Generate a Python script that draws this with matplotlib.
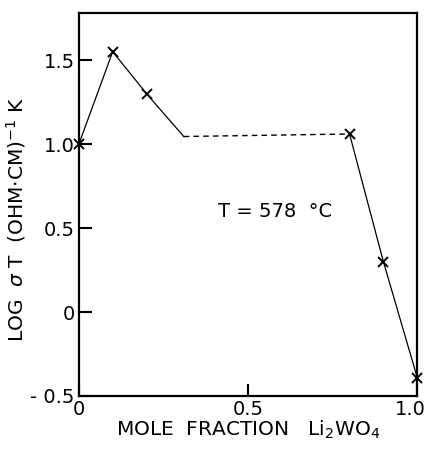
import matplotlib
matplotlib.use('Agg')
import matplotlib.pyplot as plt
from matplotlib.transforms import ScaledTranslation

# measured points (mole fraction Li2WO4, log sigma T)
x_meas = [0.0, 0.1, 0.2, 0.8, 0.9, 1.0]
y_meas = [1.0, 1.55, 1.30, 1.06, 0.30, -0.39]

# line path: solid - dashed - solid
x_left = [0.0, 0.1, 0.2, 0.31]
y_left = [1.0, 1.55, 1.30, 1.045]
x_gap = [0.31, 0.8]
y_gap = [1.045, 1.06]
x_right = [0.8, 0.9, 1.0]
y_right = [1.06, 0.30, -0.39]

xticks = [0, 0.5, 1.0]
xtick_labels = ['0', '0.5', '1.0']
yticks = [-0.5, 0, 0.5, 1.0, 1.5]
ytick_labels = ['- 0.5', '0', '0.5', '1.0', '1.5']

fig = plt.figure(figsize=(4.31, 4.51), dpi=100)
ax = fig.add_axes([0.183, 0.122, 0.785, 0.849])

ax.plot(x_left, y_left, color='black', lw=0.9)
ax.plot(x_gap, y_gap, color='black', lw=1.0, ls=(0, (4, 3)))
ax.plot(x_right, y_right, color='black', lw=0.9)
ax.plot(x_meas, y_meas, ls='none', marker='x', ms=6.5, mew=1.4, color='black',
        clip_on=False, zorder=5)

ax.set_xlim(0, 1.0)
ax.set_ylim(-0.5, 1.78)
ax.set_xticks(xticks)
ax.set_xticklabels(xtick_labels)
ax.set_yticks(yticks)
ax.set_yticklabels(ytick_labels)
ax.tick_params(direction='in', length=9, width=1.5, labelsize=14, pad=3)

# keep the last x label inside the picture
last = ax.get_xticklabels()[-1]
last.set_transform(last.get_transform() + ScaledTranslation(-5 / 72, 0, fig.dpi_scale_trans))

for s in ax.spines.values():
    s.set_linewidth(1.6)

ax.text(0.41, 0.60, 'T = 578  \u00b0C', fontsize=14, va='center', ha='left')

ax.set_xlabel('MOLE  FRACTION   Li$_2$WO$_4$', fontsize=14.5, labelpad=0)
ax.set_ylabel('LOG  $\\sigma$ T  (OHM$\\cdot$CM)$^{-1}$ K', fontsize=14.5, labelpad=2)
ax.yaxis.set_label_coords(-0.15, 0.46)

fig.savefig('out.png', dpi=100)
